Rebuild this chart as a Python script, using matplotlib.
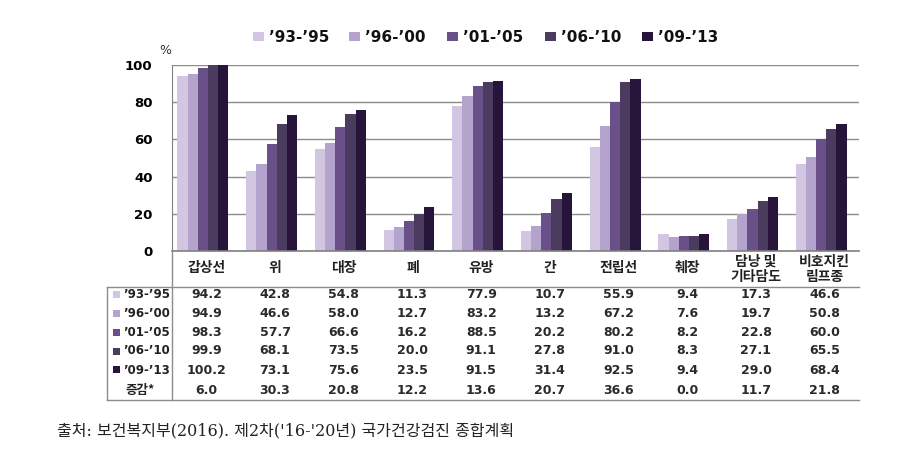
import matplotlib
matplotlib.use("Agg")
import matplotlib.pyplot as plt
from matplotlib.lines import Line2D
from matplotlib.patches import Rectangle
import matplotlib.transforms as mtransforms
import numpy as np

plt.rcParams['font.family'] = ['DejaVu Sans', 'Noto Sans CJK KR']

categories = ['갑상선', '위', '대장', '폐', '유방', '간', '전립선', '췌장', '담낭 및\n기타담도', '비호지킨\n림프종']
series_names = ['’93-’95', '’96-’00', '’01-’05', '’06-’10', '’09-’13']
v_93_95 = [94.2, 42.8, 54.8, 11.3, 77.9, 10.7, 55.9, 9.4, 17.3, 46.6]
v_96_00 = [94.9, 46.6, 58.0, 12.7, 83.2, 13.2, 67.2, 7.6, 19.7, 50.8]
v_01_05 = [98.3, 57.7, 66.6, 16.2, 88.5, 20.2, 80.2, 8.2, 22.8, 60.0]
v_06_10 = [99.9, 68.1, 73.5, 20.0, 91.1, 27.8, 91.0, 8.3, 27.1, 65.5]
v_09_13 = [100.2, 73.1, 75.6, 23.5, 91.5, 31.4, 92.5, 9.4, 29.0, 68.4]
change = [6.0, 30.3, 20.8, 12.2, 13.6, 20.7, 36.6, 0.0, 11.7, 21.8]
yticks = [0, 20, 40, 60, 80, 100]
source = "출처: 보건복지부(2016). 제2차('16-'20년) 국가건강검진 종합계획"

series = [v_93_95, v_96_00, v_01_05, v_06_10, v_09_13]
colors = ['#d2c6e2', '#b4a3cd', '#6a5089', '#4a3b5f', '#26143b']

W, H = 915, 473
fig = plt.figure(figsize=(W / 100, H / 100), dpi=100)

def fx(x):
    return x / W

def fy(y):
    return 1 - y / H

ax_l, ax_r, ax_t, ax_b = 172, 859, 65, 251
ax = fig.add_axes([fx(ax_l), fy(ax_b), fx(ax_r - ax_l), (ax_b - ax_t) / H])
n = len(categories)
x = np.arange(n)
bw = 0.148
shift = -0.05
for i, (vals, c) in enumerate(zip(series, colors)):
    ax.bar(x + shift + (i - 2) * bw, vals, width=bw, color=c, linewidth=0, zorder=3)

ax.set_xlim(-0.5, n - 0.5)
ax.set_ylim(0, 100)
ax.set_yticks(yticks)
ax.set_yticklabels([str(t) for t in yticks], fontsize=9.5, fontweight='bold')
ax.tick_params(axis='y', length=0, pad=14)
ax.set_xticks([])
for s in ['top', 'right', 'bottom']:
    ax.spines[s].set_visible(False)
ax.spines['left'].set_color('#808080')
ax.grid(axis='y', color='#8c8c8c', linewidth=1, zorder=0)
ax.axhline(0, color='#808080', linewidth=1.2, zorder=4, clip_on=False)

fig.text(fx(159), fy(51), '%', fontsize=9, ha='left', va='center', color='#333333')

# legend
leg_x = [253, 349, 447, 545, 642]
for lx, name, c in zip(leg_x, series_names, colors):
    fig.add_artist(Rectangle((fx(lx), fy(41.5)), 11 / W, 9 / H, transform=fig.transFigure,
                             facecolor=c, edgecolor='none'))
    fig.text(fx(lx + 16), fy(37), name, fontsize=11, fontweight='bold', ha='left', va='center', color='#111111')

# table
bt = mtransforms.blended_transform_factory(ax.transData, fig.transFigure)
cat_kw = dict(transform=bt, fontsize=10, ha='center', va='center',
              family=['Noto Sans CJK KR'], fontweight='bold', color='#222222')
for xi, cat in zip(x, categories):
    if '\n' in cat:
        l1, l2 = cat.split('\n')
        fig.text(xi, fy(262), l1, **cat_kw)
        fig.text(xi, fy(277), l2, **cat_kw)
    else:
        fig.text(xi, fy(268), cat, **cat_kw)

row_y = [294, 313, 332, 351, 370, 390]
for r, (vals, name, c) in enumerate(zip(series, series_names, colors)):
    yy = row_y[r]
    fig.add_artist(Rectangle((fx(113), fy(yy + 3.5)), 7 / W, 7 / H, transform=fig.transFigure,
                             facecolor=c, edgecolor='none'))
    fig.text(fx(123), fy(yy), name, fontsize=8.5, fontweight='bold', ha='left', va='center', color='#222222')
    for xi, v in zip(x, vals):
        fig.text(xi, fy(yy), f'{v:.1f}', transform=bt, fontsize=9, fontweight='bold',
                 ha='center', va='center', color='#2a2a2a')
yy = row_y[5]
fig.text(fx(140), fy(yy), '증감*', fontsize=9, ha='center', va='center',
         family=['Noto Sans CJK KR', 'DejaVu Sans'], fontweight='bold', color='#222222')
for xi, v in zip(x, change):
    fig.text(xi, fy(yy), f'{v:.1f}', transform=bt, fontsize=9, fontweight='bold',
             ha='center', va='center', color='#2a2a2a')

lc = '#8c8c8c'
def hline(x0, x1, y):
    fig.add_artist(Line2D([fx(x0), fx(x1)], [fy(y), fy(y)], transform=fig.transFigure, color=lc, linewidth=1))

def vline(x0, y0, y1):
    fig.add_artist(Line2D([fx(x0), fx(x0)], [fy(y0), fy(y1)], transform=fig.transFigure, color=lc, linewidth=1))

hline(107, ax_r, 287)
hline(107, ax_r, 400)
vline(107, 287, 400)
vline(172, 251, 400)

fig.text(fx(57), fy(431), source, fontsize=11.5, ha='left', va='center',
         family=['DejaVu Serif', 'Noto Sans CJK KR'], color='#222222')

fig.savefig('out.png', dpi=100)
